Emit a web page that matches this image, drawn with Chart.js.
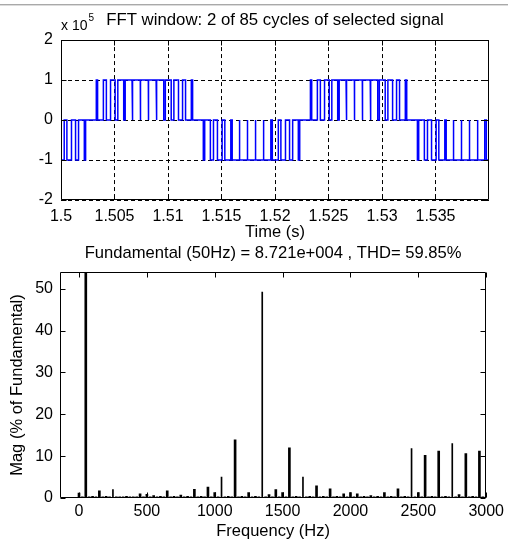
<!DOCTYPE html>
<html><head><meta charset="utf-8">
<script src="https://cdn.jsdelivr.net/npm/chart.js@4.4.1/dist/chart.umd.min.js"></script>
<style>
html,body{margin:0;padding:0;background:#fff;}
#wrap{position:relative;width:508px;height:545px;overflow:hidden;background:#fff;}
#c1{position:absolute;left:0;top:0;}
#c2{position:absolute;left:0;top:240px;}
.rule1{position:absolute;left:0;top:4px;width:508px;height:1px;background:#a9a9a9;}
.rule2{position:absolute;left:0;top:5px;width:508px;height:1px;background:#dcdcdc;}
</style></head><body>
<div id="wrap"><div class="rule1"></div><div class="rule2"></div>
<canvas id="c1" width="508" height="250"></canvas>
<canvas id="c2" width="508" height="305"></canvas></div>
<script>
// ---------- Top plot: selected signal (units of 1e5) ----------
const timeTicks = [1.5, 1.505, 1.51, 1.515, 1.52, 1.525, 1.53, 1.535];
const timeTickLabels = ['1.5', '1.505', '1.51', '1.515', '1.52', '1.525', '1.53', '1.535'];
const signalTicks = [-2, -1, 0, 1, 2];
const signalTickLabels = ['-2', '-1', '0', '1', '2'];
// pulse [start, end] times (s)
const negPulsesA = [[1.50000,1.50030],[1.50055,1.50098],[1.50136,1.50164],[1.50218,1.50230]];
const posPulsesA = [[1.50330,1.50342],[1.50396,1.50424],[1.50463,1.50506],[1.50531,1.50586],[1.50600,1.50664],[1.50671,1.50741],[1.50744,1.50816],[1.50819,1.50889],[1.50896,1.50960],[1.50975,1.51030],[1.51055,1.51098],[1.51136,1.51164],[1.51218,1.51230]];
const negPulsesB = [[1.51330,1.51343],[1.51396,1.51425],[1.51462,1.51506],[1.51531,1.51587],[1.51600,1.51665],[1.51671,1.51741],[1.51744,1.51817],[1.51819,1.51889],[1.51896,1.51961],[1.51975,1.52031],[1.52055,1.52098],[1.52136,1.52165],[1.52218,1.52231]];
const posPulsesB = [[1.52331,1.52343],[1.52396,1.52424],[1.52463,1.52507],[1.52531,1.52586],[1.52600,1.52664],[1.52671,1.52742],[1.52744,1.52816],[1.52819,1.52890],[1.52896,1.52960],[1.52975,1.53030],[1.53055,1.53099],[1.53136,1.53164],[1.53218,1.53231]];
const negPulsesC = [[1.53331,1.53343],[1.53396,1.53425],[1.53463,1.53506],[1.53531,1.53587],[1.53600,1.53664],[1.53671,1.53741],[1.53744,1.53816],[1.53819,1.53890],[1.53896,1.53960],[1.53975,1.54000]];
const pulseLevel = 1; // x 1e5

// ---------- Bottom plot: FFT spectrum ----------
const fftFreqs = [0,25,50,75,100,125,150,175,200,225,250,275,300,325,350,375,400,425,450,475,500,525,550,575,600,625,650,675,700,725,750,775,800,825,850,875,900,925,950,975,1000,1025,1050,1075,1100,1125,1150,1175,1200,1225,1250,1275,1300,1325,1350,1375,1400,1425,1450,1475,1500,1525,1550,1575,1600,1625,1650,1675,1700,1725,1750,1775,1800,1825,1850,1875,1900,1925,1950,1975,2000,2025,2050,2075,2100,2125,2150,2175,2200,2225,2250,2275,2300,2325,2350,2375,2400,2425,2450,2475,2500,2525,2550,2575,2600,2625,2650,2675,2700,2725,2750,2775,2800,2825,2850,2875,2900,2925,2950,2975,3000];
const fftMag = [1.2,0.3,100,0.3,0.4,0.3,1.7,0.3,0.4,0.3,2.0,0.3,0.3,0.3,0.4,0.3,0.3,0.3,1.0,0.3,0.9,0.3,0.6,0.3,0.4,0.3,1.7,0.3,0.4,0.3,0.7,0.3,0.4,0.3,2.1,0.3,0.4,0.3,2.6,0.3,1.3,0.3,5.0,0.3,0.4,0.3,13.9,0.3,0.4,0.3,1.3,0.3,0.4,0.3,49.2,0.3,0.8,0.3,2.0,0.3,1.3,0.3,12.0,0.3,0.4,0.3,5.0,0.3,0.4,0.3,2.9,0.3,0.4,0.3,2.2,0.3,0.4,0.3,1.0,0.3,1.3,0.3,1.0,0.3,0.4,0.3,0.6,0.3,0.4,0.3,1.3,0.3,0.4,0.3,2.2,0.3,0.4,0.3,11.8,0.3,1.3,0.3,10.2,0.3,0.4,0.3,11.2,0.3,0.4,0.3,13.0,0.3,0.8,0.3,10.6,0.3,0.4,0.3,11.2,0.3,0.3];
const freqTicks = [0, 500, 1000, 1500, 2000, 2500, 3000];
const freqTickLabels = ['0', '500', '1000', '1500', '2000', '2500', '3000'];
const magTicks = [0, 10, 20, 30, 40, 50];
const magTickLabels = ['0', '10', '20', '30', '40', '50'];

const topTitle = 'FFT window: 2 of 85 cycles of selected signal';
const bottomTitle = 'Fundamental (50Hz) = 8.721e+004 , THD= 59.85%';

// ---------- build chart data ----------
function buildSignal() {
  const pts = [];
  const groups = [[negPulsesA,-pulseLevel],[posPulsesA,pulseLevel],[negPulsesB,-pulseLevel],[posPulsesB,pulseLevel],[negPulsesC,-pulseLevel]];
  groups.forEach(([pulses, lvl]) => pulses.forEach(([a, b]) => {
    if (pts.length === 0 && a <= timeTicks[0]) pts.push({x: a, y: lvl});
    else { pts.push({x: a, y: 0}); pts.push({x: a, y: lvl}); }
    pts.push({x: b, y: lvl}); pts.push({x: b, y: 0});
  }));
  return pts;
}
const thinFreqs = [250, 1050, 1350, 1650, 2450, 2750];
const thickBars = [], thinBars = [];
fftFreqs.forEach((f, i) => (thinFreqs.includes(f) ? thinBars : thickBars).push({x: f, y: fftMag[i]}));

const FONT = "'Liberation Sans', Arial, Helvetica, sans-serif";
Chart.defaults.color = '#000';
Chart.defaults.font.family = FONT;
Chart.defaults.font.size = 16;

const matlabBox = {
  id: 'matlabBox',
  afterDraw(chart, args, opts) {
    const {ctx, chartArea: a} = chart;
    const xs = chart.scales.x, ys = chart.scales.y;
    const L = Math.round(a.left) + 0.5, R = Math.round(a.right) - 0.5;
    const T = Math.round(a.top) + 0.5, B = Math.round(a.bottom) - 0.5;
    const tl = opts.tickLen || 5;
    ctx.save();
    ctx.strokeStyle = '#000';
    ctx.lineWidth = 1;
    ctx.setLineDash([]);
    ctx.beginPath();
    ctx.rect(L, T, R - L, B - T);
    xs.ticks.forEach(t => {
      const p = Math.round(xs.getPixelForValue(t.value)) + 0.5;
      ctx.moveTo(p, B); ctx.lineTo(p, B - tl);
      ctx.moveTo(p, T); ctx.lineTo(p, T + tl);
    });
    ys.ticks.forEach(t => {
      const p = Math.round(ys.getPixelForValue(t.value)) + 0.5;
      ctx.moveTo(L, p); ctx.lineTo(L + tl, p);
      ctx.moveTo(R, p); ctx.lineTo(R - tl, p);
    });
    ctx.stroke();
    if (opts.exponent) {
      ctx.fillStyle = '#000';
      ctx.textBaseline = 'alphabetic';
      ctx.textAlign = 'left';
      ctx.font = '14px ' + FONT;
      const base = 'x 10';
      ctx.fillText(base, a.left, 30);
      const w = ctx.measureText(base).width;
      ctx.font = '10px ' + FONT;
      ctx.fillText(opts.exponent, a.left + w + 1, 21);
    }
    ctx.restore();
  }
};

function labelFrom(ticks, labels) {
  return (v) => { const i = ticks.findIndex(t => Math.abs(t - v) < 1e-9); return i >= 0 ? labels[i] : ''; };
}

new Chart(document.getElementById('c1'), {
  type: 'line',
  data: { datasets: [{ data: buildSignal(), borderColor: '#0000ff', borderWidth: 1.5, pointRadius: 0, tension: 0, fill: false }] },
  options: {
    responsive: false, animation: false, devicePixelRatio: 1,
    layout: { padding: { left: 0, right: 19, top: 0, bottom: 0 } },
    plugins: {
      legend: { display: false }, tooltip: { enabled: false },
      title: { display: true, text: topTitle, fullSize: false, color: '#000', font: { size: 16.8, weight: 'normal' }, padding: { top: 9.9, bottom: 10 } },
      matlabBox: { tickLen: 5, exponent: '5' }
    },
    scales: {
      x: {
        type: 'linear', min: 1.5, max: 1.54,
        afterBuildTicks: s => { s.ticks = timeTicks.map(v => ({value: v})); },
        afterFit: s => { s.height = 50; },
        ticks: { callback: labelFrom(timeTicks, timeTickLabels), padding: 7.4, maxRotation: 0, autoSkip: false },
        grid: { color: '#000', drawTicks: false, lineWidth: 1 },
        border: { display: false, dash: [4, 3] },
        title: { display: true, text: 'Time (s)', font: { size: 16.5 }, padding: { top: 0, bottom: 7.2 } }
      },
      y: {
        type: 'linear', min: -2, max: 2,
        afterBuildTicks: s => { s.ticks = signalTicks.map(v => ({value: v})); },
        afterFit: s => { s.width = 61; },
        ticks: { callback: labelFrom(signalTicks, signalTickLabels), padding: 8 },
        grid: { color: '#000', drawTicks: false, lineWidth: 1 },
        border: { display: false, dash: [4, 3] }
      }
    }
  },
  plugins: [matlabBox]
});

new Chart(document.getElementById('c2'), {
  type: 'bar',
  data: { datasets: [
    { data: thickBars, backgroundColor: '#000', borderWidth: 0, barThickness: 2, grouped: false },
    { data: thinBars, backgroundColor: '#000', borderWidth: 0, barThickness: 1, grouped: false }
  ] },
  options: {
    responsive: false, animation: false, devicePixelRatio: 1,
    layout: { padding: { left: 0, right: 19, top: 0, bottom: 0 } },
    plugins: {
      legend: { display: false }, tooltip: { enabled: false },
      title: { display: true, text: bottomTitle, fullSize: false, color: '#000', font: { size: 16.6, weight: 'normal' }, padding: { top: 3.1, bottom: 9 } },
      matlabBox: { tickLen: 5 }
    },
    scales: {
      x: {
        type: 'linear', min: -140, max: 3000, offset: false,
        afterBuildTicks: s => { s.ticks = freqTicks.map(v => ({value: v})); },
        afterFit: s => { s.height = 47; },
        ticks: { callback: labelFrom(freqTicks, freqTickLabels), padding: 4, maxRotation: 0, autoSkip: false },
        grid: { display: false, drawTicks: false, offset: false },
        border: { display: false },
        title: { display: true, text: 'Frequency (Hz)', font: { size: 16.5 }, padding: { top: 0, bottom: 3.2 } }
      },
      y: {
        type: 'linear', min: 0, max: 54,
        afterBuildTicks: s => { s.ticks = magTicks.map(v => ({value: v})); },
        afterFit: s => { s.width = 60; },
        ticks: { callback: labelFrom(magTicks, magTickLabels), padding: 7 },
        grid: { display: false, drawTicks: false },
        border: { display: false },
        title: { display: true, text: 'Mag (% of Fundamental)', font: { size: 16.5 }, padding: { top: 7.2, bottom: 0 } }
      }
    }
  },
  plugins: [matlabBox]
});
</script>
</body></html>
